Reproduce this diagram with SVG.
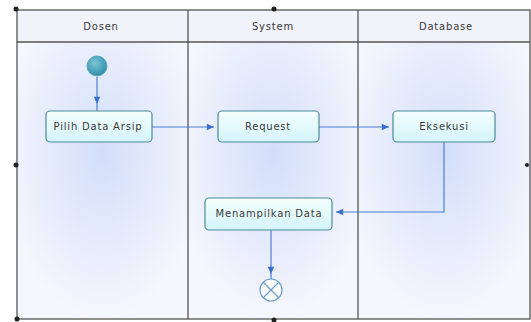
<svg xmlns="http://www.w3.org/2000/svg" width="531" height="322" viewBox="0 0 531 322">
<style>
.lane{fill:url(#laneg);stroke:none}
.hdr{fill:#f1f2fa}
.frame{fill:none;stroke:#555;stroke-width:1.3}
.lbl{font-family:"DejaVu Sans",Verdana,sans-serif;font-size:10px;letter-spacing:0.8px;fill:#3a3a3a;text-anchor:middle}
.act{fill:url(#actg);stroke:#4a8a98;stroke-width:1.2}
.con{fill:none;stroke:#4a7fd0;stroke-width:1.2}
.hnd{fill:#222}
</style>
<defs>
<radialGradient id="laneg" cx="0.5" cy="0.4" r="0.6">
<stop offset="0" stop-color="#d2defa"/>
<stop offset="1" stop-color="#f6f7fd"/>
</radialGradient>
<linearGradient id="actg" x1="0" y1="0" x2="0" y2="1">
<stop offset="0" stop-color="#f4ffff"/>
<stop offset="1" stop-color="#d4f4fa"/>
</linearGradient>
<radialGradient id="startg" cx="0.4" cy="0.35" r="0.7">
<stop offset="0" stop-color="#7ec6d8"/>
<stop offset="1" stop-color="#2a8aa8"/>
</radialGradient>
<marker id="arr" viewBox="0 0 10 10" refX="10" refY="5" markerWidth="7" markerHeight="6" orient="auto">
<path d="M0,0.5 L10,5 L0,9.5 z" fill="#3a6fd0"/>
</marker>
</defs>
<rect x="0" y="0" width="531" height="322" fill="#ffffff"/>
<g id="lanes">
<rect class="lane" x="17" y="42" width="171" height="277"/>
<rect class="lane" x="188" y="42" width="170" height="277"/>
<rect class="lane" x="358" y="42" width="172" height="277"/>
<rect class="hdr" x="17" y="10" width="513" height="32"/>
<rect class="frame" x="17" y="10" width="513" height="309"/>
<line class="frame" x1="17" y1="42" x2="530" y2="42"/>
<line class="frame" x1="188" y1="10" x2="188" y2="319"/>
<line class="frame" x1="358" y1="10" x2="358" y2="319"/>
<text class="lbl" x="101" y="30">Dosen</text>
<text class="lbl" x="273" y="30">System</text>
<text class="lbl" x="446" y="30">Database</text>
</g>
<g id="handles">
<circle class="hnd" cx="16" cy="9" r="2.5"/>
<circle class="hnd" cx="274" cy="9" r="2.5"/>
<circle class="hnd" cx="16" cy="165" r="2.5"/>
<circle class="hnd" cx="527" cy="165" r="2"/>
<circle class="hnd" cx="17" cy="319" r="2.5"/>
<circle class="hnd" cx="274" cy="320" r="2.5"/>
</g>
<g id="connectors">
<line class="con" x1="97" y1="77" x2="97" y2="104" marker-end="url(#arr)"/>
<line class="con" x1="97" y1="104" x2="97" y2="111"/>
<line class="con" x1="152" y1="127" x2="214" y2="127" marker-end="url(#arr)"/>
<line class="con" x1="319" y1="127" x2="389" y2="127" marker-end="url(#arr)"/>
<polyline class="con" points="444,142 444,212 336,212" marker-end="url(#arr)"/>
<line class="con" x1="271" y1="230" x2="271" y2="274" marker-end="url(#arr)"/>
<line class="con" x1="271" y1="274" x2="271" y2="279"/>
</g>
<g id="start">
<circle cx="97" cy="66" r="10" fill="url(#startg)" stroke="#5aa8c0" stroke-width="1"/>
</g>
<g id="pilih">
<rect class="act" x="46" y="111" width="106" height="31" rx="4"/>
<text class="lbl" x="98" y="130">Pilih Data Arsip</text>
</g>
<g id="request">
<rect class="act" x="218" y="111" width="101" height="31" rx="4"/>
<text class="lbl" x="268" y="130">Request</text>
</g>
<g id="eksekusi">
<rect class="act" x="393" y="111" width="102" height="31" rx="4"/>
<text class="lbl" x="444" y="130">Eksekusi</text>
</g>
<g id="menampilkan">
<rect class="act" x="205" y="198" width="127" height="32" rx="4"/>
<text class="lbl" x="269" y="217">Menampilkan Data</text>
</g>
<g id="end">
<circle cx="271" cy="290" r="11" fill="#fafcff" stroke="#6aa0c8" stroke-width="1.2"/>
<line x1="263.5" y1="282.5" x2="278.5" y2="297.5" stroke="#6aa0c8" stroke-width="1.2"/>
<line x1="278.5" y1="282.5" x2="263.5" y2="297.5" stroke="#6aa0c8" stroke-width="1.2"/>
</g>
</svg>
